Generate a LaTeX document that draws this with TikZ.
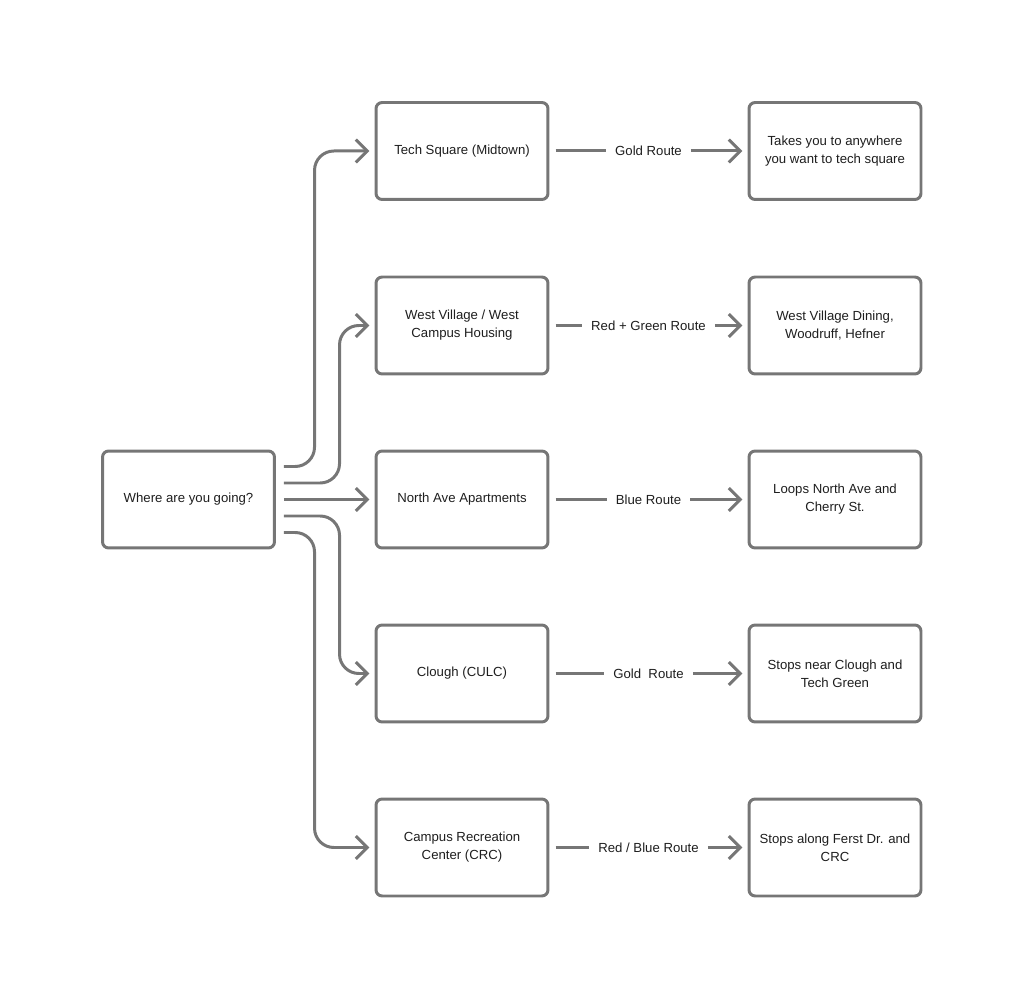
\documentclass[tikz,border=0pt]{standalone}
\usepackage{fontspec}
\setmainfont{Liberation Sans}
\usepackage{xcolor}
\usepackage{tikz}
\usetikzlibrary{arrows.meta, calc, positioning}
\definecolor{linegray}{HTML}{767676}
\definecolor{textgray}{HTML}{1E1E1E}
\tikzstyle{choice} = [rectangle, rounded corners=3.5pt, draw=linegray, line width=1.7pt, minimum width=3.44cm, minimum height=1.94cm, align=center, text=textgray, font=\fontsize{7.5}{10.2}\selectfont]
\tikzstyle{route} = [inner sep=0pt, text=textgray, font=\fontsize{7.5}{10.2}\selectfont]
\tikzstyle{arrow} = [draw=linegray, line width=1.7pt, rounded corners=11pt, -{Straight Barb[length=6.5pt,width=13pt]}]
\tikzstyle{line} = [draw=linegray, line width=1.7pt]

\begin{document}
\begin{tikzpicture}[x=0.02cm, y=-0.02cm]
\useasboundingbox (0,0) rectangle (1024,999);

% start
\node[choice] (where) at (188.5,499.5) {Where are you going?};

% destinations
\node[choice] (tech) at (462,151) {Tech Square (Midtown)};
\node[choice] (west) at (462,325.5) {West Village / West\\Campus Housing};
\node[choice] (north) at (462,499.5) {North Ave Apartments};
\node[choice] (clough) at (462,673.5) {Clough (CULC)};
\node[choice] (crc) at (462,847.5) {Campus Recreation\\Center (CRC)};

% what the route does
\node[choice] (techinfo) at (835,151) {Takes you to anywhere\\you want to tech square};
\node[choice] (westinfo) at (835,325.5) {West Village Dining,\\Woodruff, Hefner};
\node[choice] (northinfo) at (835,499.5) {Loops North Ave and\\Cherry St.};
\node[choice] (cloughinfo) at (835,673.5) {Stops near Clough and\\Tech Green};
\node[choice] (crcinfo) at (835,847.5) {Stops along Ferst Dr. and\\CRC};

% route names
\node[route] (gold) at (648.5,151) {Gold Route};
\node[route] (redgreen) at (648.5,325.5) {Red + Green Route};
\node[route] (blue) at (648.5,499.5) {Blue Route};
\node[route] (gold2) at (648.5,673.5) {Gold\ \ Route};
\node[route] (redblue) at (648.5,847.5) {Red / Blue Route};

% from the question to the places
\draw[arrow, shorten >=3pt] ($(where.east)+(8,-33)$) -| ($(tech.west)+(-60,0)$) -- (tech.west);
\draw[arrow, shorten >=3pt] ($(where.east)+(8,-16.5)$) -| ($(west.west)+(-35,0)$) -- (west.west);
\draw[arrow, shorten >=3pt] ($(where.east)+(8,0)$) -- (north.west);
\draw[arrow, shorten >=3pt] ($(where.east)+(8,16.5)$) -| ($(clough.west)+(-35,0)$) -- (clough.west);
\draw[arrow, shorten >=3pt] ($(where.east)+(8,33)$) -| ($(crc.west)+(-60,0)$) -- (crc.west);

% from the places to what they give
\foreach \a/\b/\c in {tech/gold/techinfo, west/redgreen/westinfo, north/blue/northinfo, clough/gold2/cloughinfo, crc/redblue/crcinfo}
{
  \draw[line, shorten <=3.5pt, shorten >=5pt] (\a.east) -- (\b.west);
  \draw[arrow, shorten <=5pt, shorten >=3pt] (\b.east) -- (\c.west);
}
\end{tikzpicture}
\end{document}
